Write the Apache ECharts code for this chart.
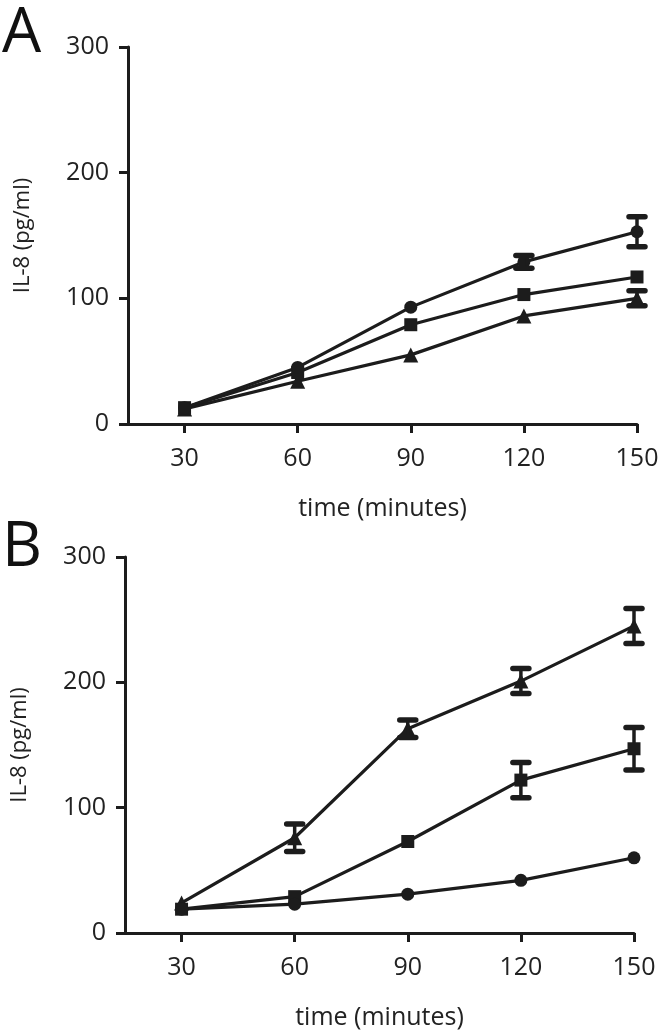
<!DOCTYPE html>
<html><head><meta charset="utf-8">
<script src="https://cdn.jsdelivr.net/npm/echarts@6/dist/echarts.min.js"></script>
<style>html,body{margin:0;padding:0;background:#fff}#c{width:666px;height:1034px}</style>
</head><body><div id="c"></div>
<script>
const times = [30, 60, 90, 120, 150];
const yTicks = [0, 100, 200, 300];
// Panel A
const aCircle = [13, 45, 93, 129, 153];
const aCircleErr = [0, 0, 0, 5, 12];
const aSquare = [13, 41, 79, 103, 117];
const aSquareErr = [0, 0, 0, 0, 0];
const aTriangle = [12, 34, 55, 86, 100];
const aTriangleErr = [0, 0, 0, 0, 6];
// Panel B
const bCircle = [19, 23, 31, 42, 60];
const bCircleErr = [0, 0, 0, 0, 0];
const bSquare = [19, 29, 73, 122, 147];
const bSquareErr = [0, 0, 0, 14, 17];
const bTriangle = [24, 76, 163, 201, 245];
const bTriangleErr = [0, 11, 7, 10, 14];

const ink = '#1c1c1c';
const font = '"Open Sans", "Noto Sans", sans-serif';

function pts(vals){ return times.map((t,i)=>[t, vals[i]]); }
function errs(vals, e){ return times.map((t,i)=>[t, vals[i]-e[i], vals[i]+e[i]]).filter((d,i)=>e[i]>0); }

function lineSeries(vals, symbol, size, gi){
  return {type:'line', data:pts(vals), xAxisIndex:gi, yAxisIndex:gi, symbol:symbol, symbolSize:size,
    lineStyle:{color:ink, width:3.2}, itemStyle:{color:ink}, z:3, animation:false};
}
function errSeries(vals, e, gi){
  return {type:'custom', xAxisIndex:gi, yAxisIndex:gi, data:errs(vals,e), z:4, animation:false,
    renderItem:function(params, api){
      const x = api.value(0);
      const lo = api.coord([x, api.value(1)]);
      const hi = api.coord([x, api.value(2)]);
      const hw = 8;
      const st = {stroke:ink, lineWidth:3.5};
      const cap = {stroke:ink, lineWidth:5.5, lineCap:'round'};
      return {type:'group', children:[
        {type:'line', shape:{x1:lo[0], y1:lo[1], x2:hi[0], y2:hi[1]}, style:st},
        {type:'line', shape:{x1:lo[0]-hw, y1:lo[1], x2:lo[0]+hw, y2:lo[1]}, style:cap},
        {type:'line', shape:{x1:hi[0]-hw, y1:hi[1], x2:hi[0]+hw, y2:hi[1]}, style:cap}
      ]};
    }};
}

function xAxis(gi){
  return {type:'value', gridIndex:gi, min:15, max:150, interval:15,
    axisLine:{lineStyle:{color:ink, width:3}},
    axisTick:{show:true, length:9, lineStyle:{color:ink, width:3}, customValues: times},
    axisLabel:{color:'#222', fontSize:25, fontFamily:font, margin:22, customValues: times},
    splitLine:{show:false},
    name:'time (minutes)', nameLocation:'middle', nameGap:72,
    nameTextStyle:{color:'#222', fontSize:25, fontFamily:font}};
}
function yAxis(gi){
  return {type:'value', gridIndex:gi, min:0, max:300, interval:100,
    axisLine:{show:true, lineStyle:{color:ink, width:3}},
    axisTick:{show:true, length:9, lineStyle:{color:ink, width:3}},
    axisLabel:{color:'#222', fontSize:25, fontFamily:font, margin:19},
    splitLine:{show:false},
    name:'IL-8 (pg/ml)', nameLocation:'middle', nameGap:94, nameRotate:90,
    nameTextStyle:{color:'#222', fontSize:22, fontFamily:font}};
}

const chart = echarts.init(document.getElementById('c'), null, {renderer:'canvas'});
chart.setOption({
  backgroundColor:'#fff',
  animation:false,
  title:[
    {text:'A', left:-3, top:-2, textStyle:{fontSize:62, fontWeight:'normal', color:'#111', fontFamily:font}},
    {text:'B', left:-3, top:512, textStyle:{fontSize:62, fontWeight:'normal', color:'#111', fontFamily:font}}
  ],
  grid:[
    {left:128, top:47, width:509, height:377},
    {left:125, top:557, width:509, height:376}
  ],
  xAxis:[xAxis(0), xAxis(1)],
  yAxis:[yAxis(0), yAxis(1)],
  series:[
    lineSeries(aTriangle,'triangle',15,0),
    lineSeries(aSquare,'rect',13,0),
    lineSeries(aCircle,'circle',13,0),
    errSeries(aTriangle,aTriangleErr,0),
    errSeries(aSquare,aSquareErr,0),
    errSeries(aCircle,aCircleErr,0),
    lineSeries(bTriangle,'triangle',15,1),
    lineSeries(bSquare,'rect',13,1),
    lineSeries(bCircle,'circle',13,1),
    errSeries(bTriangle,bTriangleErr,1),
    errSeries(bSquare,bSquareErr,1),
    errSeries(bCircle,bCircleErr,1)
  ]
});
</script></body></html>
